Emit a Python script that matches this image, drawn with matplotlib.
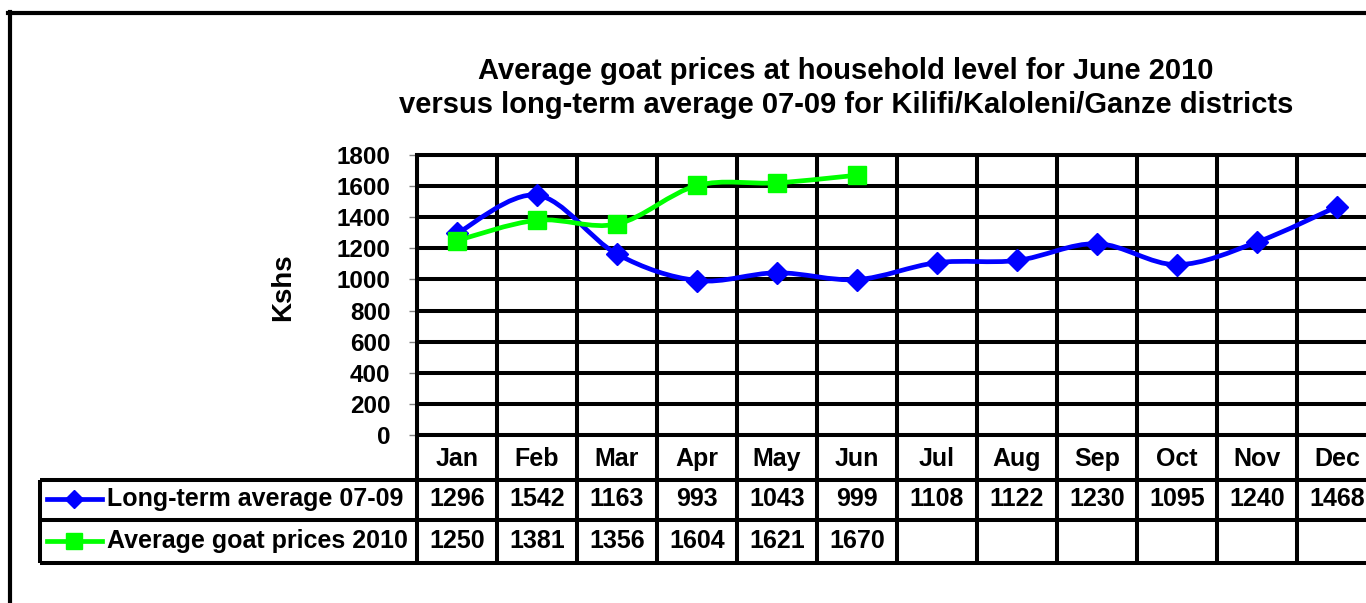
import numpy as np
import matplotlib
matplotlib.use("Agg")
import matplotlib.pyplot as plt
from matplotlib.path import Path
from matplotlib.patches import PathPatch
from matplotlib.lines import Line2D

plt.rcParams['font.family'] = ['Liberation Sans', 'DejaVu Sans']
plt.rcParams['font.weight'] = 'bold'

# podaci
months = ["Jan", "Feb", "Mar", "Apr", "May", "Jun", "Jul", "Aug", "Sep", "Oct", "Nov", "Dec"]
long_term = [1296, 1542, 1163, 993, 1043, 999, 1108, 1122, 1230, 1095, 1240, 1468]
prices_2010 = [1250, 1381, 1356, 1604, 1621, 1670]
label_lt = "Long-term average 07-09"
label_2010 = "Average goat prices 2010"
title = ("Average goat prices at household level for June 2010\n"
         "versus long-term average 07-09 for Kilifi/Kaloleni/Ganze districts")

W, H = 1366, 603
LW = 2.9          # debljina mreze
BLUE = "#0000ff"
GREEN = "#00ff00"
FS = 18           # velicina fonta u tablici


def smooth_path(x, y):
    # Excel-like smoothed line (Catmull-Rom -> Bezier)
    pts = np.column_stack([x, y]).astype(float)
    verts = [pts[0]]
    codes = [Path.MOVETO]
    for i in range(len(pts) - 1):
        p0 = pts[i - 1] if i > 0 else pts[i]
        p1 = pts[i]
        p2 = pts[i + 1]
        p3 = pts[i + 2] if i + 2 < len(pts) else pts[i + 1]
        verts += [p1 + (p2 - p0) / 6, p2 - (p3 - p1) / 6, p2]
        codes += [Path.CURVE4] * 3
    return Path(verts, codes)


fig = plt.figure(figsize=(W / 100, H / 100), dpi=100)

# okvir oko cijelog grafa
fig.add_artist(Line2D([10 / W, 10 / W], [0, 1 - 12 / H], color="k", lw=3, transform=fig.transFigure))
fig.add_artist(Line2D([8 / W, 1], [1 - 13 / H, 1 - 13 / H], color="k", lw=3, transform=fig.transFigure))

# glavni graf
ax = fig.add_axes([417 / W, 1 - 435 / H, 960 / W, 280 / H])
ax.set_xlim(0, 12)
ax.set_ylim(0, 1800)
ax.set_xticks(range(13))
ax.set_xticklabels([])
ax.tick_params(axis="x", length=0)
ax.set_yticks(range(0, 1801, 200))
ax.tick_params(axis="y", length=6, width=1, color="#808080", pad=13, labelsize=17.5)
for t in ax.get_yticklabels():
    t.set_fontweight("bold")
ax.grid(True, color="k", lw=LW)
for s in ax.spines.values():
    s.set_linewidth(LW)
ax.spines["right"].set_visible(False)
ax.set_axisbelow(True)

x_lt = np.arange(len(long_term)) + 0.5
x_10 = np.arange(len(prices_2010)) + 0.5
ax.add_patch(PathPatch(smooth_path(x_lt, long_term), fill=False, ec=BLUE, lw=3.4, zorder=3, clip_on=False))
ax.plot(x_lt, long_term, ls="none", marker="D", ms=11, color=BLUE, zorder=4, clip_on=False)
ax.add_patch(PathPatch(smooth_path(x_10, prices_2010), fill=False, ec=GREEN, lw=3.4, zorder=3, clip_on=False))
ax.plot(x_10, prices_2010, ls="none", marker="s", ms=13, color=GREEN, zorder=4, clip_on=False)

fig.text(283 / W, 1 - 287 / H, "Kshs", rotation=90, ha="center", va="center", fontsize=20, fontweight="bold")
fig.text(846 / W, 1 - 88 / H, title, ha="center", va="center", fontsize=21, fontweight="bold", linespacing=1.3)

# tablica s podacima ispod grafa (koordinate: stupci po mjesecima, y u pikselima)
tab = fig.add_axes([40 / W, 1 - 563 / H, 1337 / W, 128 / H])
tab.set_xlim(-377 / 80, 12)
tab.set_ylim(128, 0)
tab.axis("off")
rows_y = [0, 45, 85, 128]
tab.vlines(range(13), 0, 128, color="k", lw=LW, clip_on=False)
tab.vlines(-377 / 80, 45, 128, color="k", lw=LW, clip_on=False)
tab.hlines(rows_y[1:], -377 / 80, 12, color="k", lw=LW, clip_on=False)

for i, m in enumerate(months):
    tab.text(i + 0.5, 24, m, ha="center", va="center", fontsize=FS, fontweight="bold")
for i, v in enumerate(long_term):
    tab.text(i + 0.5, 64, str(v), ha="center", va="center", fontsize=FS, fontweight="bold")
for i, v in enumerate(prices_2010):
    tab.text(i + 0.5, 106, str(v), ha="center", va="center", fontsize=FS, fontweight="bold")

# legenda u tablici
for yy, col, mk, msz, lab in [(64, BLUE, "D", 9, label_lt), (106, GREEN, "s", 11, label_2010)]:
    tab.plot([-370 / 80, -315 / 80], [yy, yy], color=col, lw=3.4, clip_on=False)
    tab.plot([-343 / 80], [yy], marker=mk, ms=msz, color=col, clip_on=False)
    tab.text(-310 / 80, yy, lab, ha="left", va="center", fontsize=FS, fontweight="bold")

fig.savefig("out.png", dpi=100)
